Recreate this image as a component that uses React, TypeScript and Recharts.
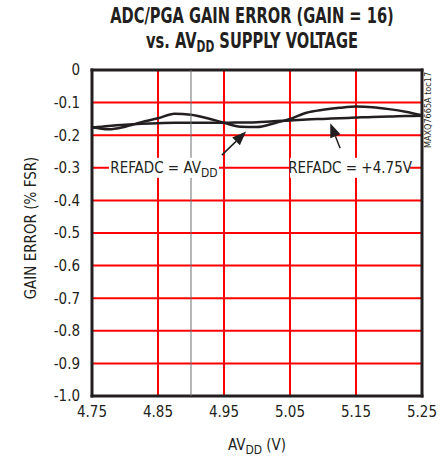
import React from 'react';
import {
  LineChart,
  Line,
  XAxis,
  YAxis,
  CartesianGrid,
  ReferenceLine,
  ReferenceDot,
} from 'recharts';

const voltage = [
  4.75, 4.775, 4.8, 4.825, 4.85, 4.875, 4.9, 4.925, 4.95, 4.975, 5.0,
  5.025, 5.05, 5.075, 5.1, 5.125, 5.15, 5.175, 5.2, 5.225, 5.25,
];
const errorRefAvdd = [
  -0.175, -0.182, -0.174, -0.16, -0.148, -0.134, -0.137, -0.148, -0.162, -0.174, -0.175,
  -0.164, -0.15, -0.131, -0.122, -0.116, -0.112, -0.114, -0.12, -0.128, -0.139,
];
const errorRef475 = [
  -0.177, -0.172, -0.168, -0.165, -0.163, -0.162, -0.162, -0.162, -0.162, -0.161, -0.16,
  -0.157, -0.155, -0.152, -0.15, -0.148, -0.146, -0.144, -0.143, -0.141, -0.14,
];
const xTicks = [4.75, 4.85, 4.95, 5.05, 5.15, 5.25];
const yTicks = [0, -0.1, -0.2, -0.3, -0.4, -0.5, -0.6, -0.7, -0.8, -0.9, -1.0];

const data = voltage.map((v, i) => ({ v, avdd: errorRefAvdd[i], ref: errorRef475[i] }));

const FONT = '"Liberation Sans Narrow", "DejaVu Sans Condensed", "Roboto Condensed", sans-serif';
const INK = '#231f20';

const ok = (...n: any[]) => n.every((v) => v != null && !isNaN(v));

const Edge = (props: any) => {
  const { x1, y1, x2, y2 } = props;
  if (!ok(x1, y1, x2, y2)) return null;
  return <line x1={x1} y1={y1} x2={x2} y2={y2} stroke={INK} strokeWidth={3} strokeLinecap="square" />;
};

const Arrow = (props: any) => {
  const { x1, y1, x2, y2 } = props;
  if (!ok(x1, y1, x2, y2)) return null;
  const ang = Math.atan2(y2 - y1, x2 - x1);
  const len = 14;
  const half = 5.5;
  const bx = x2 - len * Math.cos(ang);
  const by = y2 - len * Math.sin(ang);
  const px = -Math.sin(ang) * half;
  const py = Math.cos(ang) * half;
  return (
    <g>
      <line x1={x1} y1={y1} x2={bx} y2={by} stroke={INK} strokeWidth={1.5} />
      <polygon points={`${x2},${y2} ${bx + px},${by + py} ${bx - px},${by - py}`} fill={INK} />
    </g>
  );
};

const Tag = (main: string, sub: string, w: number) => (props: any) => {
  const { cx, cy } = props;
  if (!ok(cx, cy)) return null;
  return (
    <g>
      <rect x={cx - w / 2} y={cy - 10} width={w} height={20} fill="#fff" />
      <text x={cx} y={cy + 5} textAnchor="middle" fontFamily={FONT} fontSize={15} fill={INK}>
        {main}
        {sub ? (
          <tspan fontSize={12} dy={4}>
            {sub}
          </tspan>
        ) : null}
      </text>
    </g>
  );
};

const YLabel = (props: any) => {
  const { viewBox } = props;
  const x = viewBox.x + 31;
  const y = viewBox.y + viewBox.height / 2 - 5;
  return (
    <text
      x={x}
      y={y}
      transform={`rotate(-90, ${x}, ${y})`}
      textAnchor="middle"
      dominantBaseline="central"
      fontFamily={FONT}
      fontSize={15}
      fill={INK}
    >
      GAIN ERROR (% FSR)
    </text>
  );
};

const XLabel = (props: any) => {
  const { viewBox } = props;
  return (
    <text
      x={viewBox.x + viewBox.width / 2}
      y={viewBox.y + 54}
      textAnchor="middle"
      fontFamily={FONT}
      fontSize={15}
      fill={INK}
    >
      AV
      <tspan fontSize={12} dy={4}>
        DD
      </tspan>
      <tspan dy={-4}> (V)</tspan>
    </text>
  );
};

const fmtY = (v: number) => (v === 0 ? '0' : v.toFixed(1));

export default function App() {
  return (
    <>
      <div style={{ position: 'absolute', left: 0, top: 0 }}>
        <LineChart width={443} height={459} data={data} margin={{ top: 70, right: 21, bottom: 0, left: 0 }}>
          <CartesianGrid stroke="red" strokeWidth={2} />
          <XAxis
            dataKey="v"
            type="number"
            domain={[4.75, 5.25]}
            ticks={xTicks}
            tickFormatter={(v: number) => v.toFixed(2)}
            height={63}
            axisLine={false}
            tickLine={false}
            tickSize={4}
            tickMargin={6}
            tick={{ fontFamily: FONT, fontSize: 15, fill: INK }}
            label={<XLabel />}
          />
          <YAxis
            type="number"
            domain={[-1, 0]}
            ticks={yTicks}
            tickFormatter={fmtY}
            width={92}
            axisLine={false}
            tickLine={false}
            tickSize={6}
            tickMargin={6}
            tick={{ fontFamily: FONT, fontSize: 15, fill: INK }}
            label={<YLabel />}
          />
          <ReferenceDot x={4.859} y={-0.3} r={0} shape={Tag('REFADC = AV', 'DD', 110)} />
          <ReferenceDot x={5.141} y={-0.3} r={0} shape={Tag('REFADC = +4.75V', '', 120)} />
          <ReferenceLine segment={[{ x: 4.75, y: 0 }, { x: 5.25, y: 0 }]} shape={Edge} />
          <ReferenceLine segment={[{ x: 4.75, y: -1 }, { x: 5.25, y: -1 }]} shape={Edge} />
          <ReferenceLine segment={[{ x: 4.75, y: 0 }, { x: 4.75, y: -1 }]} shape={Edge} />
          <ReferenceLine segment={[{ x: 5.25, y: 0 }, { x: 5.25, y: -1 }]} shape={Edge} />
          <Line type="monotone" dataKey="ref" stroke={INK} strokeWidth={2.5} dot={false} isAnimationActive={false} />
          <Line type="monotone" dataKey="avdd" stroke={INK} strokeWidth={2.5} dot={false} isAnimationActive={false} />
          <ReferenceLine x={4.9} stroke="#6d6e71" strokeWidth={1} />
          <ReferenceLine
            segment={[
              { x: 4.9467, y: -0.261 },
              { x: 4.9835, y: -0.189 },
            ]}
            shape={Arrow}
          />
          <ReferenceLine
            segment={[
              { x: 5.126, y: -0.24 },
              { x: 5.111, y: -0.163 },
            ]}
            shape={Arrow}
          />
        </LineChart>
      </div>
      <div
        style={{
          position: 'absolute',
          left: 252,
          top: 3,
          transform: 'translateX(-50%) scaleX(0.74)',
          whiteSpace: 'nowrap',
          textAlign: 'center',
          fontFamily: FONT,
          fontWeight: 'bold',
          fontSize: 22,
          lineHeight: '25px',
          color: INK,
        }}
      >
        ADC/PGA GAIN ERROR (GAIN = 16)
        <br />
        vs. AV<span style={{ fontSize: 16, verticalAlign: -4 }}>DD</span> SUPPLY VOLTAGE
      </div>
      <div
        style={{
          position: 'absolute',
          left: 423,
          top: 148,
          transform: 'rotate(-90deg)',
          transformOrigin: '0 0',
          whiteSpace: 'nowrap',
          fontFamily: FONT,
          fontSize: 9,
          lineHeight: '10px',
          color: INK,
        }}
      >
        MAXQ7665A toc17
      </div>
    </>
  );
}
